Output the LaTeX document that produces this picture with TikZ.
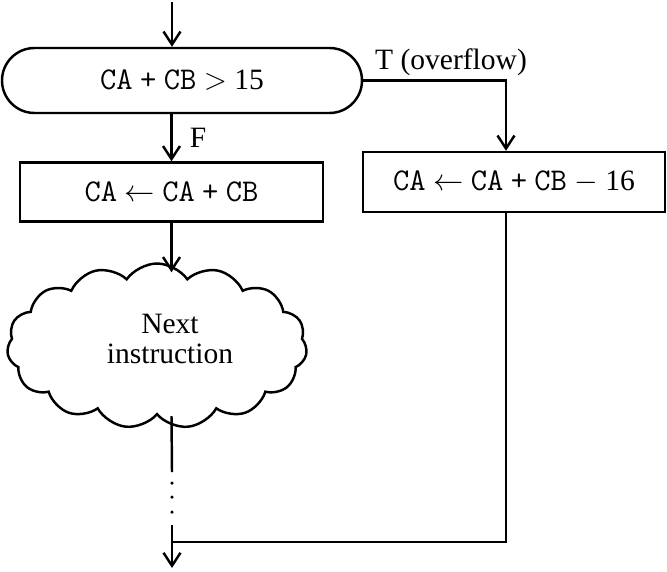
\documentclass[tikz,border=0pt]{standalone}
\usepackage{fontspec}
\setmainfont{Liberation Serif}
\usetikzlibrary{arrows.meta,calc,shapes.symbols}
\newcommand{\reg}[1]{{\fontsize{18}{20}\ttfamily #1}}
\tikzset{
  flow/.style={line width=1.4pt},
  arr/.style={flow,-{Straight Barb[length=2.6mm,width=3.4mm]}},
  proc/.style={draw,flow,minimum width=6.05cm,minimum height=1.18cm},
}

\begin{document}
\begin{tikzpicture}[font=\fontsize{16.8}{17.6}\selectfont]
  \useasboundingbox (0,0) rectangle (13.34,11.42);
  \coordinate (start) at (3.44,11.38);
  \coordinate (tx) at (10.12,0);
  \coordinate (dotstop) at (3.44,1.98);
  \coordinate (dotsend) at (3.44,0.92);
  \coordinate (merge) at (3.44,0.58);
  \coordinate (end) at (3.44,0.06);
  \node[draw,flow,rounded corners=0.65cm,minimum width=7.2cm,minimum height=1.3cm] (term) at (3.64,9.81) {\reg{CA} \reg{+} \reg{CB} $>$ 15\hspace{0.24cm}};
  \node (f) at (3.96,8.66) {F};
  \node (t) at (9.02,10.18) {T (overflow)};
  \node[proc] (box1) at (3.43,7.58) {\reg{CA} $\leftarrow$ \reg{CA} \reg{+} \reg{CB}};
  \node[proc,minimum height=1.2cm] (box2) at (10.28,7.78) {\reg{CA} $\leftarrow$ \reg{CA} \reg{+} \reg{CB} $-$ 16};
  \node[cloud,draw,flow,cloud puffs=15,cloud puff arc=110,aspect=1.8,minimum width=6cm,minimum height=3.3cm] (cloud) at (3.14,4.5) {};
  \node[align=center] (next) at ($(cloud)+(0.26,0.14)$) {Next\\instruction};
  \draw[arr] (start) -- (term.north -| start);
  \draw[arr] (term.south -| box1) -- (box1.north);
  \draw[arr] (box1.south) -- ($(cloud.north -| box1)+(0,-0.2)$);
  \draw[flow] (cloud.south -| box1) -- (dotstop);
  \foreach \y in {1.76,1.48,1.18}
    \fill (3.44,\y) circle (0.035);
  \draw[arr] (dotsend) -- (end);
  \draw[arr] (term.east) -| (tx |- box2.north);
  \draw[flow] (tx |- box2.south) |- (merge);
\end{tikzpicture}
\end{document}
